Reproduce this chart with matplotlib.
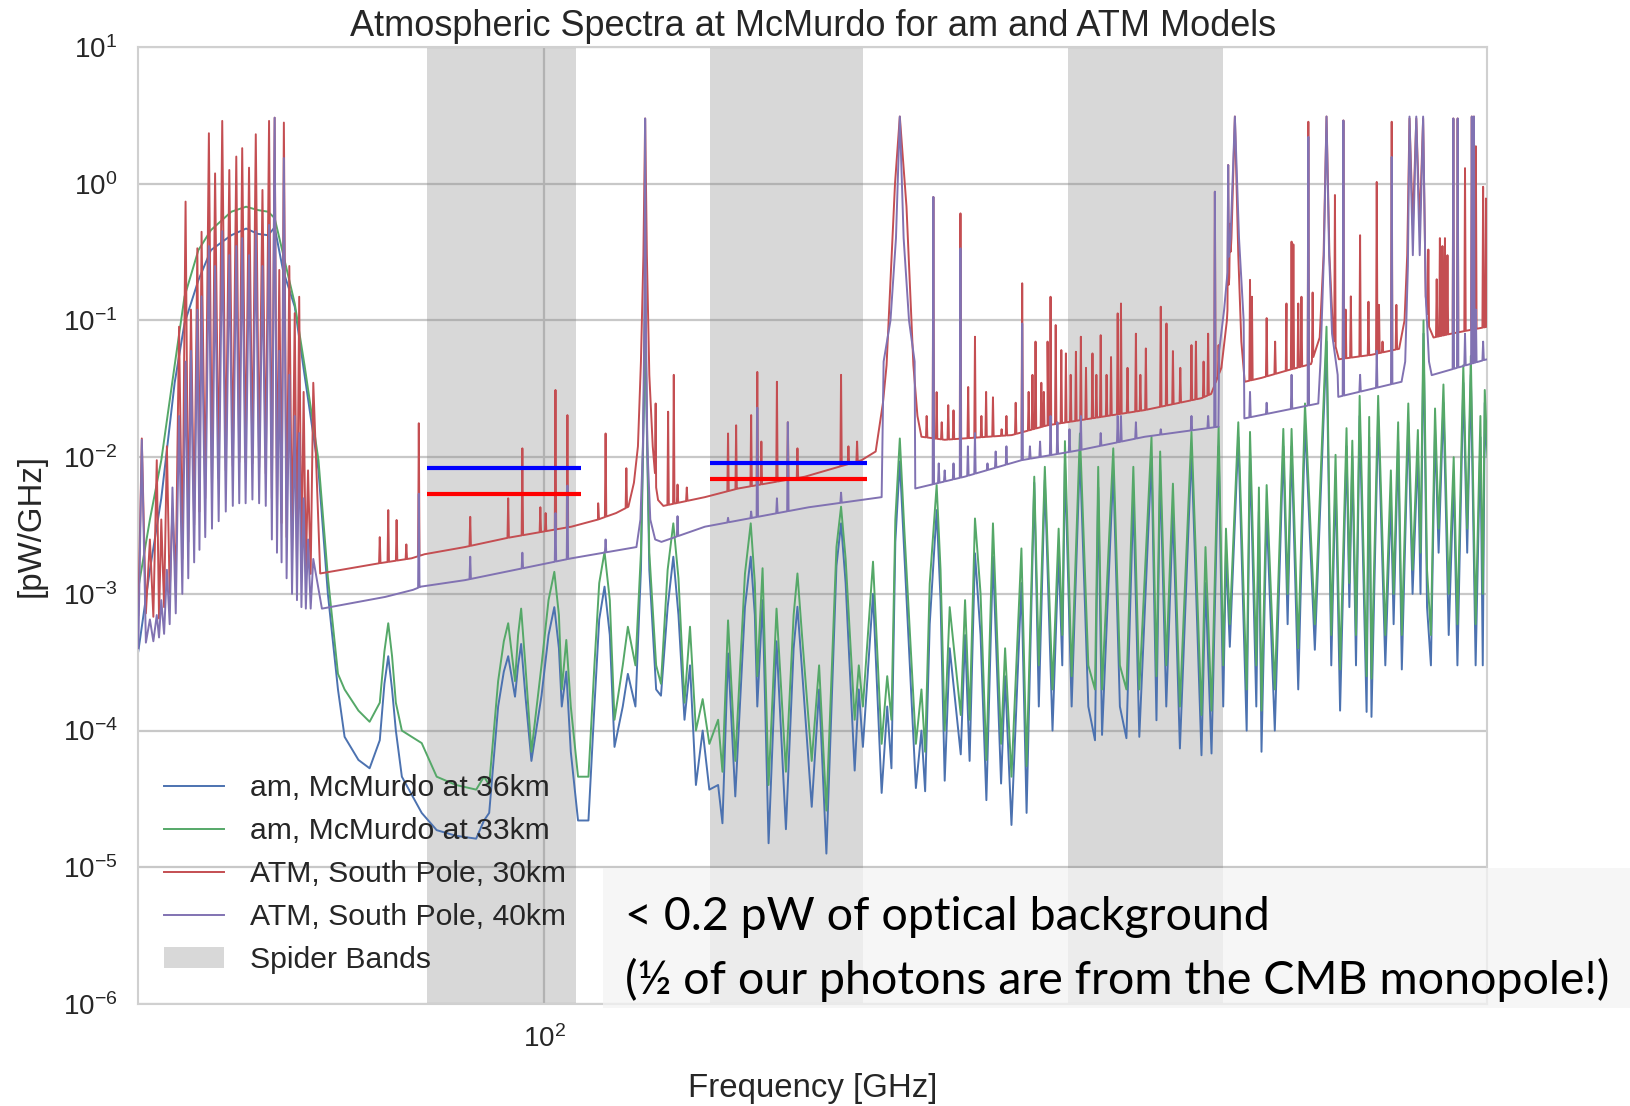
import matplotlib
matplotlib.use("Agg")
import matplotlib.pyplot as plt
import numpy as np
from matplotlib.patches import Patch, Rectangle
from matplotlib.lines import Line2D
from matplotlib.ticker import NullFormatter, NullLocator

# ---------------- data (GHz, pW/GHz) ----------------
spider_bands = [(81.8, 105.6), (132.6, 172.2), (244.4, 318.6)]

# integrated-level bars drawn over the two lower bands
bar_f = [(81.8, 106.5), (132.6, 173.3)]
bar_blue = [8.3e-3, 9.0e-3]
bar_red = [5.4e-3, 6.9e-3]

x_ticks = [100]
y_ticks = [1e-6, 1e-5, 1e-4, 1e-3, 1e-2, 1e-1, 1e0, 1e1]

# am models: knots (frequency, 33 km green, 36 km blue)
am_f = [50.0, 51.0, 52.0, 53.2, 54.1, 55.4, 56.6, 58.6, 60.1, 61.3,
        62.4, 63.1, 64.0, 65.3, 66.4, 68.0, 69.1, 70.3, 71.1, 72.8,
        74.2, 75.5, 76.1, 76.6, 77.1, 77.6, 78.4, 81.1, 83.2, 86.0,
        89.0, 90.2, 91.0, 92.4, 93.3, 94.0, 95.1, 95.6, 96.1, 96.8,
        97.8, 99.5, 100.7, 101.7, 102.5, 103.0, 103.8, 104.6, 105.9, 107.8,
        108.9, 109.8, 110.8, 111.8, 112.7, 114.3, 115.3, 116.8, 117.9, 118.5,
        118.75, 119.0, 119.6, 121.0, 122.0, 123.4, 124.6, 125.7, 127.0, 128.2,
        129.5, 131.0, 132.5, 134.5, 135.5, 136.8, 138.5, 140.8, 142.2, 143.2,
        143.8, 145.1, 146.6, 148.6, 151.0, 153.0, 154.0, 155.2, 157.8, 159.8,
        161.8, 164.6, 165.9, 167.2, 169.8, 171.0, 172.2, 175.2, 177.8, 179.5,
        180.8, 182.0, 183.4, 184.8, 188.5, 190.3, 191.5, 193.0, 195.3, 196.6,
        198.0, 199.7, 203.5, 205.0, 206.6, 208.5, 210.5, 212.6, 215.0, 218.0,
        219.5, 221.9, 225.7, 227.7, 230.7, 232.5, 234.9, 238.0, 240.5, 242.0,
        243.1, 245.9, 249.4, 253.0, 255.9, 257.3, 259.0, 264.0, 267.0, 270.0,
        273.2, 276.0, 281.8, 284.2, 286.0, 289.0, 292.3, 295.8, 301.7, 306.9,
        309.0, 312.2, 316.0, 318.5, 320.0, 322.1, 326.8, 331.5, 333.4, 337.0,
        338.5, 340.0, 343.0, 347.8, 352.9, 355.5, 357.9, 362.0, 366.2, 372.4,
        379.9, 383.0, 385.8, 388.8, 393.1, 395.0, 397.0, 399.5, 402.0, 406.8,
        408.6, 410.2, 414.9, 420.0, 424.0, 426.0, 429.3, 432.0, 436.8, 440.0,
        444.0, 446.0, 448.3, 451.0, 454.0, 457.2, 460.0, 463.8, 468.0, 472.0,
        475.0, 479.8, 483.0, 486.0, 490.0, 494.0, 496.0, 497.7, 500.0]
am33_green = [1.1e-3, 3.5e-3, 9.5e-3, 0.047, 0.149, 0.327, 0.458, 0.624, 0.679, 0.642,
              0.624, 0.56, 0.31, 0.133, 0.047, 9.5e-3, 1.33e-3, 2.6e-4, 2.0e-4, 1.4e-4,
              1.16e-4, 1.6e-4, 3.8e-4, 6.1e-4, 3.5e-4, 1.6e-4, 1.0e-4, 8.1e-5, 4.6e-5, 4.0e-5,
              3.7e-5, 4.6e-5, 4.0e-5, 2.3e-4, 4.5e-4, 6.1e-4, 2.3e-4, 5.0e-4, 7.8e-4, 3.0e-4,
              7e-5, 3.0e-4, 9.0e-4, 1.45e-3, 7.0e-4, 2.0e-4, 4.6e-4, 1.5e-4, 4.6e-5, 4.6e-5,
              3.0e-4, 1.2e-3, 2.03e-3, 9.0e-4, 1.2e-4, 3.0e-4, 5.75e-4, 3e-4, 2e-3, 0.03,
              0.2, 0.03, 2e-3, 3e-4, 2.2e-4, 1.5e-3, 3.28e-3, 1.3e-3, 1.6e-4, 5.75e-4,
              1.0e-4, 1.7e-4, 8e-5, 1.2e-4, 5e-5, 6.4e-4, 6e-5, 1.4e-3, 3.28e-3, 1.2e-3,
              2.5e-4, 1.54e-3, 4e-5, 7.8e-4, 5e-5, 7e-4, 1.41e-3, 5e-4, 6e-5, 3e-4,
              2.6e-5, 2.2e-3, 4.34e-3, 1.8e-3, 1.2e-4, 3e-4, 1.5e-4, 1.72e-3, 8e-5, 2.5e-4,
              1.2e-4, 3.5e-3, 0.0137, 3.0e-3, 8e-5, 2e-4, 7e-5, 1.19e-3, 6.25e-3, 1.5e-3,
              1e-4, 8e-4, 1.3e-4, 9e-4, 1.2e-4, 3.56e-3, 1.0e-3, 6.1e-5, 3.28e-3, 8e-5,
              4e-4, 4.6e-5, 2.15e-3, 5.5e-5, 7.2e-3, 3e-4, 8.5e-3, 2e-4, 3e-3, 5e-4,
              0.0131, 2.5e-4, 0.0149, 3e-4, 2e-4, 8.5e-3, 2e-4, 0.0116, 3e-4, 2e-4,
              8.5e-3, 2e-4, 0.0141, 2.5e-4, 0.011, 3e-4, 6.4e-3, 1.5e-4, 0.0153, 1.3e-4,
              2.2e-3, 1.4e-4, 0.0167, 3e-4, 3e-3, 6e-4, 0.018, 2e-4, 0.0153, 3e-4,
              6e-3, 1.4e-4, 6.25e-3, 2e-4, 0.0161, 1e-3, 0.0161, 4e-4, 0.0247, 6e-4,
              0.09, 5e-4, 0.0104, 2.8e-4, 0.0163, 1.2e-3, 0.0132, 5e-4, 0.0281, 2.5e-4,
              0.0197, 2.4e-4, 0.0281, 5e-4, 8e-3, 1e-3, 0.018, 5e-4, 0.0247, 1.5e-3,
              0.0158, 2e-3, 0.1, 1.5e-3, 5e-4, 0.0227, 3e-3, 0.034, 1e-3, 0.01,
              6e-4, 0.047, 3e-3, 0.055, 6e-4, 0.02, 1e-3, 0.031, 0.01]
am36_blue = [3.8e-4, 1.5e-3, 5.0e-3, 0.035, 0.095, 0.197, 0.327, 0.42, 0.47, 0.43,
             0.42, 0.48, 0.234, 0.126, 0.04, 8e-3, 1.0e-3, 2.0e-4, 9.0e-5, 6.1e-5,
             5.3e-5, 8.5e-5, 2.2e-4, 3.5e-4, 2.0e-4, 1.0e-4, 4.6e-5, 2.5e-5, 1.87e-5, 1.7e-5,
             1.62e-5, 2.2e-5, 2.5e-5, 1.5e-4, 2.7e-4, 3.5e-4, 1.77e-4, 3.0e-4, 4.3e-4, 1.8e-4,
             6e-5, 1.8e-4, 5.0e-4, 8.0e-4, 4.0e-4, 1.5e-4, 2.7e-4, 7e-5, 2.2e-5, 2.2e-5,
             1.5e-4, 6.5e-4, 1.13e-3, 5.0e-4, 7.6e-5, 1.5e-4, 2.6e-4, 1.5e-4, 1.5e-3, 0.025,
             0.18, 0.025, 1.5e-3, 2e-4, 1.8e-4, 8e-4, 1.87e-3, 7e-4, 1.2e-4, 3.0e-4,
             4e-5, 1.0e-4, 3.7e-5, 4e-5, 2.1e-5, 3.67e-4, 3.3e-5, 8e-4, 1.87e-3, 7e-4,
             1.5e-4, 9.0e-4, 1.5e-5, 4.5e-4, 1.9e-5, 4e-4, 8.05e-4, 2.8e-4, 2.77e-5, 2e-4,
             1.26e-5, 1.6e-3, 3.28e-3, 1.2e-3, 5.1e-5, 2e-4, 7.6e-5, 1.0e-3, 3.5e-5, 1.5e-4,
             5.3e-5, 2.4e-3, 9.3e-3, 2.0e-3, 3.8e-5, 1e-4, 3.6e-5, 6e-4, 4.1e-3, 9e-4,
             4.3e-5, 4e-4, 6.7e-5, 5e-4, 6e-5, 1.98e-3, 5e-4, 3.1e-5, 1.87e-3, 4.1e-5,
             2.5e-4, 2.04e-5, 1.2e-3, 2.5e-5, 6.5e-3, 1.5e-4, 6.8e-3, 1e-4, 2e-3, 3e-4,
             9e-3, 1.5e-4, 0.0106, 1.5e-4, 8.5e-5, 6e-3, 9.3e-5, 8e-3, 1.5e-4, 8.8e-5,
             5e-3, 9e-5, 0.01, 1.19e-4, 8e-3, 1.5e-4, 4e-3, 7.4e-5, 0.011, 6.6e-5,
             1.2e-3, 6.8e-5, 0.012, 1.5e-4, 2e-3, 4.1e-4, 0.014, 1.0e-4, 0.011, 1.5e-4,
             4e-3, 7.0e-5, 4e-3, 1.0e-4, 0.012, 6e-4, 0.012, 2e-4, 0.018, 3.9e-4,
             0.07, 3e-4, 7e-3, 1.4e-4, 0.012, 8e-4, 0.01, 3e-4, 0.02, 1.37e-4,
             0.014, 1.26e-4, 0.02, 3e-4, 5e-3, 6e-4, 0.013, 2.8e-4, 0.018, 1e-3,
             0.011, 1e-3, 0.08, 8e-4, 3e-4, 0.016, 2e-3, 0.025, 5e-4, 7e-3,
             3e-4, 0.035, 2e-3, 0.04, 3e-4, 0.014, 3e-4, 0.025, 8e-3]
assert len(am_f) == len(am33_green) == len(am36_blue)

# ATM models: 60 GHz oxygen complex (line peaks and the minima between them)
o2_line_f = [50.3, 51.0, 51.6, 52.0, 52.5, 53.0, 53.6, 54.2, 54.7, 55.3, 55.7, 56.4, 57.0, 57.7, 58.4,
             59.1, 59.7, 60.4, 61.1, 61.8, 62.5, 63.1, 63.6, 64.1, 64.7, 65.3, 65.8, 66.3, 66.8, 67.4]
o2_gap_f = [50.65, 51.3, 51.8, 52.25, 52.75, 53.3, 53.9, 54.45, 55.0, 55.5, 56.05, 56.7, 57.35, 58.05,
            58.75, 59.4, 60.05, 60.75, 61.45, 62.15, 62.8, 63.35, 63.85, 64.4, 65.0, 65.55, 66.05, 66.55, 67.1]
atm30_o2_peak = [0.0137, 2.5e-3, 9.5e-3, 3.5e-3, 0.012, 4.2e-3, 0.09, 0.74, 0.12, 0.337, 0.445, 2.34, 1.19, 2.88, 1.26,
                 1.58, 1.82, 1.31, 2.30, 0.9, 2.88, 3.04, 0.234, 2.8, 0.25, 0.113, 0.149, 0.03, 8e-3, 0.035]
atm30_o2_gap = [7.2e-4, 6.8e-4, 6.6e-4, 8e-4, 1.0e-3, 1.3e-3, 1.8e-3, 2.4e-3, 3.2e-3, 4.0e-3, 5.0e-3, 6.0e-3, 7.0e-3,
                8.0e-3, 8.6e-3, 9.2e-3, 9.2e-3, 9.0e-3, 8.4e-3, 7.6e-3, 5.0e-3, 4.0e-3, 3.3e-3, 2.6e-3, 2.0e-3,
                1.7e-3, 1.5e-3, 1.45e-3, 1.4e-3]
atm40_o2_peak = [0.0134, 6.5e-4, 7e-4, 9e-4, 1.5e-3, 6e-3, 0.02, 0.05, 0.06, 0.12, 0.15, 0.35, 0.25, 0.45, 0.3,
                 0.35, 0.4, 0.3, 0.45, 0.25, 0.5, 3.04, 0.06, 1.54, 0.04, 0.02, 0.015, 5e-3, 2.5e-3, 1.8e-3]
atm40_o2_gap = [4.4e-4, 4.5e-4, 4.8e-4, 5.1e-4, 6e-4, 7.2e-4, 1.0e-3, 1.3e-3, 1.7e-3, 2.1e-3, 2.6e-3, 3.0e-3, 3.4e-3,
                4.0e-3, 4.4e-3, 4.6e-3, 4.6e-3, 4.9e-3, 4.6e-3, 4.4e-3, 2.5e-3, 2.0e-3, 1.7e-3, 1.3e-3, 1.0e-3,
                9e-4, 8e-4, 7.8e-4, 7.8e-4]
atm30_start = (50.0, 7.0e-4)
atm40_start = (50.0, 4.0e-4)

# continuum + broad water/oxygen lines above 68 GHz
atm30_cont_f = [68.2, 75.3, 79.7, 81.5, 87.3, 93.5, 104.7, 109.6, 113.0, 115.4, 116.5, 117.3, 117.9, 118.4, 118.75,
                119.1, 119.6, 120.3, 121.0, 121.4, 122.5, 131.5, 139.2, 156.0, 171.8, 176.0, 178.2, 179.3, 181.9,
                183.4, 185.5, 187.7, 189.0, 190.3, 198.0, 222.0, 236.0, 278.6, 306.9, 312.0, 317.5, 320.5, 323.0,
                324.9, 326.8, 328.5, 330.4, 340.0, 355.0, 370.0, 375.5, 378.0, 379.9, 381.8, 384.3, 388.0, 410.0,
                430.0, 434.0, 436.0, 437.7, 440.2, 442.8, 445.4, 448.0, 450.0, 452.5, 456.0, 470.0, 485.0, 500.0]
atm30_cont_v = [1.41e-3, 1.67e-3, 1.82e-3, 1.95e-3, 2.2e-3, 2.55e-3, 3.1e-3, 3.5e-3, 3.9e-3, 4.34e-3, 6.5e-3, 0.012, 0.05, 0.3, 3.0,
                0.3, 0.04, 0.012, 6e-3, 4.86e-3, 4.4e-3, 5.1e-3, 5.9e-3, 7.2e-3, 9.5e-3, 0.011, 0.025, 0.047, 1.0,
                3.1, 0.68, 0.047, 0.02, 0.0141, 0.0134, 0.0145, 0.0171, 0.0221, 0.027, 0.029, 0.045, 0.1, 0.4,
                3.1, 0.3, 0.07, 0.0356, 0.038, 0.043, 0.048, 0.075, 0.3, 3.1, 0.3, 0.075, 0.052, 0.056,
                0.062, 0.1, 0.3, 3.0, 0.5, 3.0, 0.5, 3.0, 0.15, 0.09, 0.075, 0.08, 0.085, 0.09]
atm40_cont_f = [68.4, 76.2, 79.9, 81.0, 87.3, 104.7, 117.0, 117.8, 118.3, 118.6, 118.75, 118.9, 119.2, 119.8, 120.8,
                122.1, 131.5, 157.0, 177.8, 178.4, 180.5, 182.2, 183.4, 184.6, 186.3, 188.1, 188.3, 204.9, 225.7,
                248.6, 278.6, 315.9, 316.3, 319.0, 322.5, 324.9, 327.2, 329.8, 330.2, 374.6, 376.0, 378.2, 379.9,
                381.6, 383.5, 387.2, 387.6, 431.8, 434.5, 436.5, 437.7, 440.2, 442.8, 445.4, 448.0, 450.0, 452.5,
                454.6, 497.7, 500.0]
atm40_cont_v = [7.8e-4, 9.5e-4, 1.07e-3, 1.13e-3, 1.26e-3, 1.82e-3, 2.2e-3, 3.5e-3, 0.012, 0.1, 3.0, 0.1, 0.012, 3.5e-3, 2.5e-3,
                2.4e-3, 3.1e-3, 4.3e-3, 5.1e-3, 0.05, 0.1, 0.4, 3.1, 0.4, 0.1, 0.05, 5.9e-3, 7.2e-3, 9.5e-3,
                0.0112, 0.0141, 0.0167, 0.06, 0.12, 0.4, 3.1, 0.4, 0.1, 0.0192, 0.0247, 0.05, 0.3, 3.1,
                0.3, 0.08, 0.04, 0.0276, 0.0356, 0.05, 0.25, 3.1, 0.3, 3.1, 0.3, 3.1, 0.15, 0.05,
                0.0398, 0.0515, 0.052]

# narrow lines (centre frequency, peak level)
atm30_line_f = [75.5, 76.6, 77.7, 79.0, 80.7, 88.1, 94.0, 96.3, 99.3, 100.2, 101.9, 104.0, 109.6, 111.0, 115.0,
                120.9, 123.5, 124.7, 125.5, 127.5, 136.8, 138.7, 142.3, 143.8, 144.8, 148.7, 151.5, 154.0, 165.9,
                168.0, 170.5, 192.0, 194.2, 195.3, 197.0, 199.2, 201.0, 203.4, 206.1, 208.5, 210.8, 212.5, 215.0,
                218.2, 220.0, 223.5, 226.0, 228.5, 230.0, 231.2, 233.5, 234.5, 236.0, 237.2, 239.3, 241.6, 243.5,
                245.5, 247.7, 249.8, 252.0, 254.8, 256.5, 258.4, 261.0, 263.0, 266.0, 267.5, 270.5, 274.4, 276.5,
                279.1, 286.3, 289.1, 292.3, 296.0, 301.7, 304.0, 308.0, 310.4, 314.0, 316.0, 321.2, 322.2, 333.4,
                334.5, 343.0, 348.0, 354.8, 357.9, 359.0, 362.0, 364.0, 368.3, 371.0, 385.4, 391.0, 392.5, 396.0,
                402.3, 408.1, 413.9, 415.5, 418.0, 424.6, 428.0, 452.0, 458.5, 461.0, 463.0, 465.0, 467.0, 471.7,
                475.2, 481.2, 486.8, 488.6, 490.2, 496.3, 498.7]
atm30_line_v = [2.6e-3, 4.1e-3, 3.47e-3, 2.3e-3, 0.0177, 3.66e-3, 5.0e-3, 0.0116, 4.3e-3, 3.9e-3, 0.031, 0.0203, 4.6e-3, 0.0149, 8.3e-3,
                0.0247, 0.0215, 0.04, 6.3e-3, 6e-3, 0.0149, 0.0171, 0.0203, 0.042, 0.013, 0.0356, 0.018, 0.0116, 0.04,
                0.012, 0.013, 0.02, 0.80, 0.0299, 0.018, 0.024, 0.022, 0.607, 0.0326, 0.076, 0.02, 0.03, 0.0274,
                0.016, 0.02, 0.025, 0.187, 0.03, 0.04, 0.07, 0.035, 0.03, 0.07, 0.149, 0.0925, 0.0607, 0.0574,
                0.04, 0.059, 0.076, 0.045, 0.0574, 0.04, 0.078, 0.04, 0.054, 0.1126, 0.133, 0.045, 0.08, 0.04,
                0.0624, 0.126, 0.095, 0.0597, 0.045, 0.066, 0.07, 0.05, 0.08, 0.874, 0.066, 1.37, 0.51, 0.198,
                0.149, 0.104, 0.07, 0.133, 0.377, 0.36, 0.133, 0.149, 2.84, 0.16, 0.827, 2.9, 0.12, 0.15,
                0.42, 0.137, 1.03, 0.13, 0.07, 2.84, 0.13, 0.33, 0.2, 0.4, 0.35, 0.4, 0.3, 3.0,
                3.0, 1.3, 3.1, 3.1, 1.88, 0.95, 0.78]
atm40_line_f = [80.7, 88.1, 96.3, 101.9, 104.0, 111.0, 125.5, 136.8, 142.3, 143.8, 148.7, 151.5, 165.9,
                194.2, 196.0, 198.0, 201.0, 203.4, 206.0, 208.5, 213.0, 216.0, 220.0, 226.0, 229.0, 233.0, 237.2,
                240.0, 245.0, 249.8, 258.4, 266.0, 267.5, 274.4, 286.3, 301.7, 310.4, 314.0, 321.2, 333.4, 343.0,
                357.9, 368.3, 391.0, 402.3, 413.9, 424.6, 471.7, 475.2, 481.2, 486.8, 488.6, 490.2, 496.3]
atm40_line_v = [5.4e-3, 1.87e-3, 2.0e-3, 3.9e-3, 6.2e-3, 2.5e-3, 3.7e-3, 3.6e-3, 4e-3, 0.023, 5e-3, 0.018, 5.5e-3,
                0.80, 9e-3, 8e-3, 9e-3, 0.337, 0.012, 0.015, 9e-3, 0.011, 0.012, 0.095, 0.012, 0.013, 0.02,
                0.018, 0.016, 0.02, 0.015, 0.02, 0.02, 0.018, 0.016, 0.02, 0.02, 0.874, 1.37, 0.03, 0.025,
                0.04, 2.2, 2.9, 0.04, 0.06, 1.57, 3.0, 3.0, 0.08, 3.1, 3.1, 0.12, 0.07]
assert len(atm30_line_f) == len(atm30_line_v) and len(atm40_line_f) == len(atm40_line_v)

series_labels = ["am, McMurdo at 36km", "am, McMurdo at 33km",
                 "ATM, South Pole, 30km", "ATM, South Pole, 40km", "Spider Bands"]
colors = {"blue": "#4C72B0", "green": "#55A868", "red": "#C44E52", "purple": "#8172B2"}


def atm_path(start, o2_f, o2_v, gap_f, gap_v, cont_f, cont_v, line_f, line_v, rel=0.0012):
    f = [start[0]]
    v = [start[1]]
    for i in range(len(o2_f)):
        f.append(o2_f[i]); v.append(o2_v[i])
        if i < len(gap_f):
            f.append(gap_f[i]); v.append(gap_v[i])
    f += list(cont_f); v += list(cont_v)
    lf, lv = np.log10(f), np.log10(v)
    pf, pv = list(f), list(v)
    # each narrow line rises from the continuum it sits on
    for c, p in zip(line_f, line_v):
        for x in (c * (1 - rel), c * (1 + rel)):
            pf.append(x)
            pv.append(10 ** np.interp(np.log10(x), lf, lv))
        pf.append(c); pv.append(p)
    o = np.argsort(pf, kind="stable")
    return np.array(pf)[o], np.array(pv)[o]


# ---------------- style ----------------
plt.rcParams.update({
    "font.family": ["Liberation Sans", "DejaVu Sans"],
    "text.color": "0.15",
    "axes.labelcolor": "0.15",
    "xtick.color": "0.15",
    "ytick.color": "0.15",
    "axes.edgecolor": "0.8",
    "axes.linewidth": 1.5,
})

fig = plt.figure(figsize=(16.31, 11.06), dpi=100)
ax = fig.add_axes([0.0848, 0.0922, 0.8272, 0.8653])
ax.set_xscale("log")
ax.set_yscale("log")

for lo, hi in spider_bands:
    ax.axvspan(lo, hi, color="gray", alpha=0.3, lw=0, zorder=1)

lw = 1.4
ax.plot(am_f, am36_blue, color=colors["blue"], lw=lw, zorder=2)
ax.plot(am_f, am33_green, color=colors["green"], lw=lw, zorder=3)
rf, rv = atm_path(atm30_start, o2_line_f, atm30_o2_peak, o2_gap_f, atm30_o2_gap,
                  atm30_cont_f, atm30_cont_v, atm30_line_f, atm30_line_v)
ax.plot(rf, rv, color=colors["red"], lw=lw, zorder=4)
pf, pv = atm_path(atm40_start, o2_line_f, atm40_o2_peak, o2_gap_f, atm40_o2_gap,
                  atm40_cont_f, atm40_cont_v, atm40_line_f, atm40_line_v)
ax.plot(pf, pv, color=colors["purple"], lw=lw, zorder=5)

for (lo, hi), b, r in zip(bar_f, bar_blue, bar_red):
    ax.hlines(b, lo, hi, color="blue", lw=3, zorder=6)
    ax.hlines(r, lo, hi, color="red", lw=3, zorder=6)

ax.set_xlim(50, 500)
ax.set_ylim(1e-6, 10)
ax.set_xticks(x_ticks)
ax.set_yticks(y_ticks)
ax.xaxis.set_minor_locator(NullLocator())
ax.yaxis.set_minor_locator(NullLocator())
ax.xaxis.set_minor_formatter(NullFormatter())
ax.grid(True, which="major", color="#c8c8c8", lw=1.6)
ax.set_axisbelow(True)
ax.tick_params(which="both", length=0, labelsize=20, pad=15)
for s in ax.spines.values():
    s.set_color("#d0d0d0")

ax.set_title("Atmospheric Spectra at McMurdo for am and ATM Models", fontsize=26, pad=8)
ax.set_xlabel("Frequency [GHz]", fontsize=23.8)
ax.set_ylabel("[pW/GHz]", fontsize=23.8)
ax.xaxis.label.set_va("center")
ax.yaxis.label.set_va("center")
ax.xaxis.set_label_coords(0.5, -0.0878)
ax.yaxis.set_label_coords(-0.0795, 0.5)

handles = [Line2D([], [], color=colors["blue"], lw=lw),
           Line2D([], [], color=colors["green"], lw=lw),
           Line2D([], [], color=colors["red"], lw=lw),
           Line2D([], [], color=colors["purple"], lw=lw),
           Patch(facecolor="gray", alpha=0.3, lw=0)]
ax.legend(handles, series_labels, loc="lower left", bbox_to_anchor=(0.019, 0.031),
          frameon=False, fontsize=21.7, handlelength=2.0, handletextpad=0.85,
          labelspacing=0.5, borderpad=0, borderaxespad=0)

# annotation box overlaid on the lower right
fig.patches.append(Rectangle((0.3697, 0.0886), 0.6303, 0.1266, transform=fig.transFigure,
                             facecolor="#f3f3f3", alpha=0.75, edgecolor="none", zorder=5))
note_font = ["Lato", "DejaVu Sans"]
fig.text(0.3832, 0.1591, "< 0.2 pW of optical background", family=note_font,
         fontsize=33.5, color="black", va="baseline", ha="left", zorder=6)
fig.text(0.3832, 0.1013, "(\u00bd of our photons are from the CMB monopole!)", family=note_font,
         fontsize=33.5, color="black", va="baseline", ha="left", zorder=6)

fig.savefig("out.png", dpi=100)
